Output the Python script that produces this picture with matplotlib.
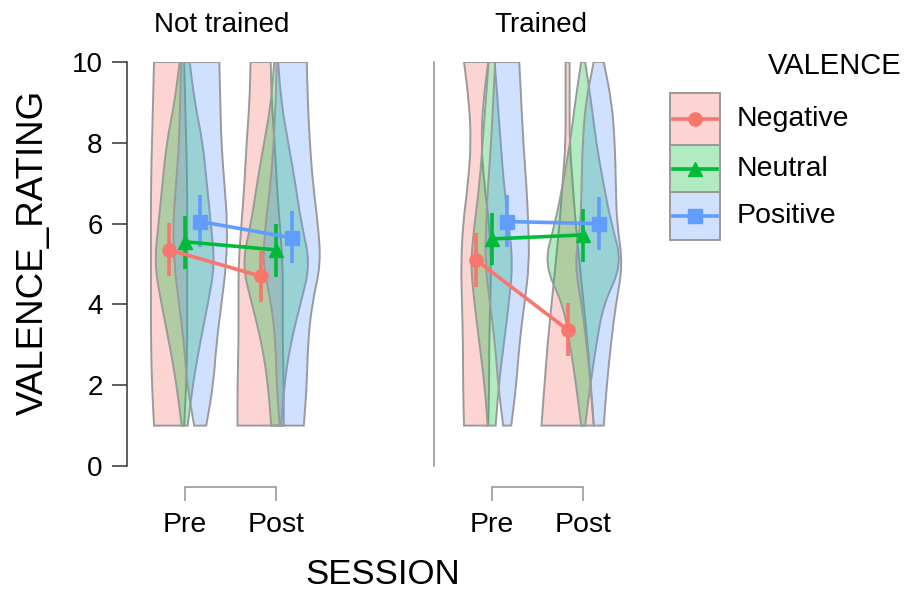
import numpy as np
import matplotlib
matplotlib.use("Agg")
import matplotlib.pyplot as plt
from matplotlib.patches import Rectangle, PathPatch
from matplotlib.path import Path
from matplotlib.lines import Line2D
from matplotlib.transforms import Affine2D

plt.rcParams['font.family'] = ['Liberation Sans', 'DejaVu Sans']

# ---------------- data ----------------
panels = ["Not trained", "Trained"]
sessions = ["Pre", "Post"]
valences = ["Negative", "Neutral", "Positive"]
y_ticks = [0, 2, 4, 6, 8, 10]

# means / 95% CI, rows = valence (Neg, Neu, Pos), cols = session (Pre, Post)
nt_means = [[5.35, 4.70], [5.55, 5.35], [6.05, 5.65]]
nt_lower = [[4.70, 4.07], [4.88, 4.69], [5.43, 5.02]]
nt_upper = [[6.01, 5.32], [6.19, 5.99], [6.70, 6.30]]
t_means = [[5.10, 3.37], [5.62, 5.72], [6.05, 6.00]]
t_lower = [[4.44, 2.72], [4.98, 5.06], [5.43, 5.35]]
t_upper = [[5.77, 4.03], [6.27, 6.36], [6.70, 6.65]]

# violin half-widths (relative density) at ratings 1..10
rating_grid = [1, 2, 3, 4, 5, 6, 7, 8, 9, 10]
nt_pre_density = [[15, 17, 18, 18, 18, 18, 18, 17, 16, 15],
                  [3, 8, 15, 23, 30, 26, 22, 18, 10, 5],
                  [6, 13, 16, 21, 26, 27, 24, 21, 20, 19]]
nt_post_density = [[23, 23, 22, 22, 22, 19, 16, 14, 11, 10],
                   [5, 8, 14, 24, 34, 25, 19, 12, 5, 2],
                   [12, 15, 16, 20, 29, 26, 21, 18, 16, 15]]
t_pre_density = [[12, 13, 13, 14, 15, 13, 8, 5, 7, 12],
                 [4, 7, 12, 17, 21, 17, 12, 9, 6, 3],
                 [4, 9, 12, 17, 22, 21, 19, 16, 14, 12]]
t_post_density = [[26, 23, 20, 16, 12, 8, 5, 2, 2, 2],
                  [2, 7, 13, 20, 39, 28, 20, 13, 8, 2],
                  [5, 8, 12, 17, 24, 18, 17, 16, 13, 5]]

# ---------------- styling ----------------
colors = ["#F8766D", "#00BA38", "#619CFF"]
markers = ["o", "^", "s"]
msizes = [9.5, 10.5, 9.5]
offsets = [-0.17, 0.0, 0.17]
width_scale = 1 / 91.0
edge_gray = "#9a9a9a"
W, H = 908, 594

fig = plt.figure(figsize=(W / 100, H / 100), dpi=100)
pix = Affine2D().scale(1 / W, -1 / H).translate(0, 1) + fig.transFigure


def ax_rect(left_px, right_px, top_px, bottom_px):
    return [left_px / W, 1 - bottom_px / H, (right_px - left_px) / W, (bottom_px - top_px) / H]


def smooth_side(pts):
    """Quadratic-Bezier path pieces through the midpoints of a side's points."""
    verts, codes = [], []
    verts.append(pts[0]); codes.append(Path.LINETO)
    verts.append(((pts[0][0] + pts[1][0]) / 2, (pts[0][1] + pts[1][1]) / 2)); codes.append(Path.LINETO)
    for i in range(1, len(pts) - 1):
        mid = ((pts[i][0] + pts[i + 1][0]) / 2, (pts[i][1] + pts[i + 1][1]) / 2)
        verts += [pts[i], mid]
        codes += [Path.CURVE3, Path.CURVE3]
    verts.append(pts[-1]); codes.append(Path.LINETO)
    return verts, codes


def violin_path(center, widths, ys):
    left = [(center - w, y) for w, y in zip(widths, ys)]
    right = [(center + w, y) for w, y in zip(widths[::-1], ys[::-1])]
    v1, c1 = smooth_side(left)
    v2, c2 = smooth_side(right)
    verts = v1 + v2 + [left[0]]
    codes = c1 + c2 + [Path.CLOSEPOLY]
    codes[0] = Path.MOVETO
    return Path(verts, codes)


ax1 = fig.add_axes(ax_rect(127, 332, 62, 466))
ax2 = fig.add_axes(ax_rect(434, 639, 62, 466))

panel_data = [
    (ax1, [nt_pre_density, nt_post_density], nt_means, nt_lower, nt_upper),
    (ax2, [t_pre_density, t_post_density], t_means, t_lower, t_upper),
]

for ax, dens, means, lo, hi in panel_data:
    for si in range(len(sessions)):
        for vi in range(len(valences)):
            c = si + 1 + offsets[vi]
            w = [d * width_scale for d in dens[si][vi]]
            p = violin_path(c, w, rating_grid)
            ax.add_patch(PathPatch(p, facecolor=colors[vi], alpha=0.3, edgecolor="none",
                                   zorder=1 + vi))
            ax.add_patch(PathPatch(p, facecolor="none", edgecolor=edge_gray, lw=1.4,
                                   zorder=1 + vi))
    for vi in range(len(valences)):
        xs = [1 + offsets[vi], 2 + offsets[vi]]
        ax.vlines(xs, lo[vi], hi[vi], color=colors[vi], lw=2.6, zorder=10)
        ax.plot(xs, means[vi], color=colors[vi], lw=2.6, marker=markers[vi],
                ms=msizes[vi], zorder=11)

for ax in (ax1, ax2):
    ax.set_xlim(0.37, 2.61)
    ax.set_ylim(0, 10)
    ax.spines["top"].set_visible(False)
    ax.spines["right"].set_visible(False)
    ax.spines["bottom"].set_position(("outward", 15))
    ax.spines["bottom"].set_bounds(1, 2)
    ax.spines["bottom"].set_color(edge_gray)
    ax.spines["bottom"].set_linewidth(1.2)
    ax.set_xticks([1, 2])
    ax.set_xticklabels(sessions)
    ax.tick_params(axis="x", length=10, width=1.2, color=edge_gray, pad=8, labelsize=20.5)
    ax.patch.set_visible(False)

ax1.spines["left"].set_color("#333333")
ax1.spines["left"].set_linewidth(1.1)
ax1.set_yticks(y_ticks)
ax1.tick_params(axis="y", length=10.5, width=1.1, color="#333333", pad=7, labelsize=20)

ax2.spines["left"].set_color(edge_gray)
ax2.spines["left"].set_linewidth(1.2)
ax2.set_yticks([])

# titles & axis labels
fig.text(222 / W, 1 - 25 / H, panels[0], ha="center", va="center", fontsize=20)
fig.text(541 / W, 1 - 25 / H, panels[1], ha="center", va="center", fontsize=20)
fig.text(33 / W, 1 - 252 / H, "VALENCE_RATING", ha="center", va="center",
         rotation=90, fontsize=26.5)
fig.text(383 / W, 1 - 584 / H, "SESSION", ha="center", va="baseline", fontsize=25)

# legend
fig.text(835 / W, 1 - 66 / H, "VALENCE", ha="center", va="center", fontsize=21)
box_tops = [93, 145, 192]
box_bottoms = [145, 192, 240]
for vi, lab in enumerate(valences):
    t, b = box_tops[vi], box_bottoms[vi]
    fig.add_artist(Rectangle((670, t), 50, b - t, transform=pix, facecolor=colors[vi],
                             alpha=0.3, edgecolor="none"))
    fig.add_artist(Rectangle((670, t), 50, b - t, transform=pix, facecolor="none",
                             edgecolor=edge_gray, lw=1.4))
    ym = (t + b) / 2
    fig.add_artist(Line2D([673, 717], [ym, ym], transform=pix, color=colors[vi], lw=2.6))
    fig.add_artist(Line2D([695], [ym], transform=pix, color=colors[vi], marker=markers[vi],
                          ms=msizes[vi], lw=0))
    fig.text(737 / W, 1 - ym / H, lab, ha="left", va="center", fontsize=20.5)

fig.savefig("out.png", dpi=100)
